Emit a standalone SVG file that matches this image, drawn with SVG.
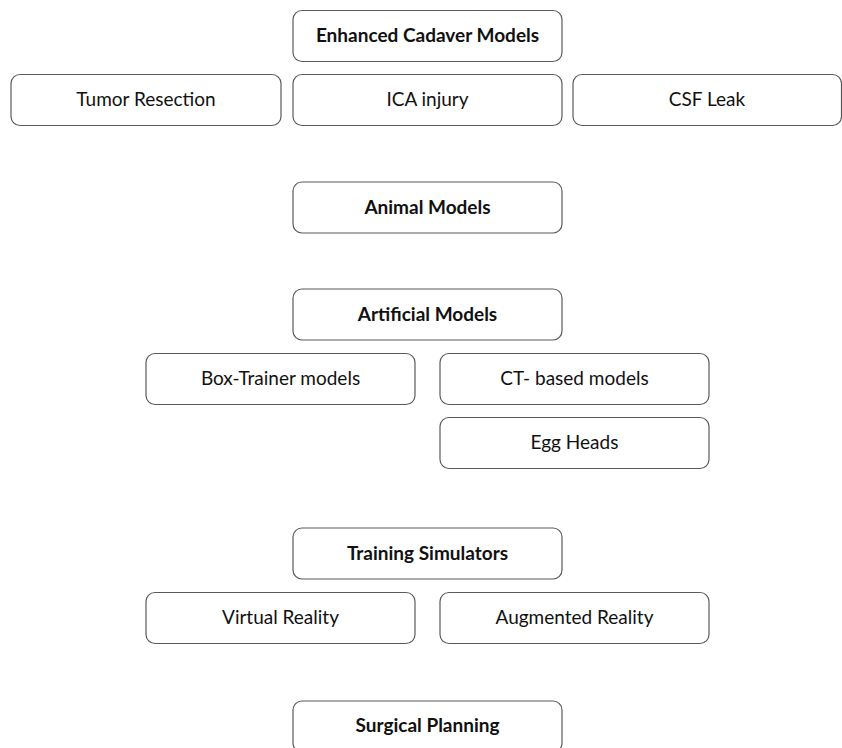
<svg xmlns="http://www.w3.org/2000/svg" width="842" height="748" viewBox="0 0 842 748">
<style>
.box{fill:#fff;stroke:#5a5a5a;stroke-width:1.2}
.t{font-family:Lato,"Liberation Sans",sans-serif;font-size:19px;fill:#111;text-anchor:middle}
.b{font-weight:bold}
</style>
<rect width="842" height="748" fill="#fff"/>
<g id="connectors"></g>
<g id="n-enhanced"><rect class="box" x="293" y="10.5" width="269" height="51" rx="9"/><text class="t b" x="427.5" y="42">Enhanced Cadaver Models</text></g>
<g id="n-tumor"><rect class="box" x="11" y="74.5" width="270" height="51" rx="9"/><text class="t" x="146" y="106">Tumor Resection</text></g>
<g id="n-ica"><rect class="box" x="293" y="74.5" width="269" height="51" rx="9"/><text class="t" x="427.5" y="106">ICA injury</text></g>
<g id="n-csf"><rect class="box" x="573" y="74.5" width="268.5" height="51" rx="9"/><text class="t" x="707" y="106">CSF Leak</text></g>
<g id="n-animal"><rect class="box" x="293" y="182" width="269" height="51" rx="9"/><text class="t b" x="427.5" y="213.5">Animal Models</text></g>
<g id="n-artificial"><rect class="box" x="293" y="289" width="269" height="51" rx="9"/><text class="t b" x="427.5" y="320.5">Artificial Models</text></g>
<g id="n-boxtrainer"><rect class="box" x="146" y="353.5" width="269" height="51" rx="9"/><text class="t" x="280.5" y="385">Box-Trainer models</text></g>
<g id="n-ct"><rect class="box" x="440" y="353.5" width="269" height="51" rx="9"/><text class="t" x="574.5" y="385">CT- based models</text></g>
<g id="n-egg"><rect class="box" x="440" y="417.5" width="269" height="51" rx="9"/><text class="t" x="574.5" y="449">Egg Heads</text></g>
<g id="n-training"><rect class="box" x="293" y="528" width="269" height="51" rx="9"/><text class="t b" x="427.5" y="559.5">Training Simulators</text></g>
<g id="n-vr"><rect class="box" x="146" y="592.5" width="269" height="51" rx="9"/><text class="t" x="280.5" y="624">Virtual Reality</text></g>
<g id="n-ar"><rect class="box" x="440" y="592.5" width="269" height="51" rx="9"/><text class="t" x="574.5" y="624">Augmented Reality</text></g>
<g id="n-surgical"><rect class="box" x="293" y="701" width="269" height="51" rx="9"/><text class="t b" x="427.5" y="732">Surgical Planning</text></g>
</svg>
